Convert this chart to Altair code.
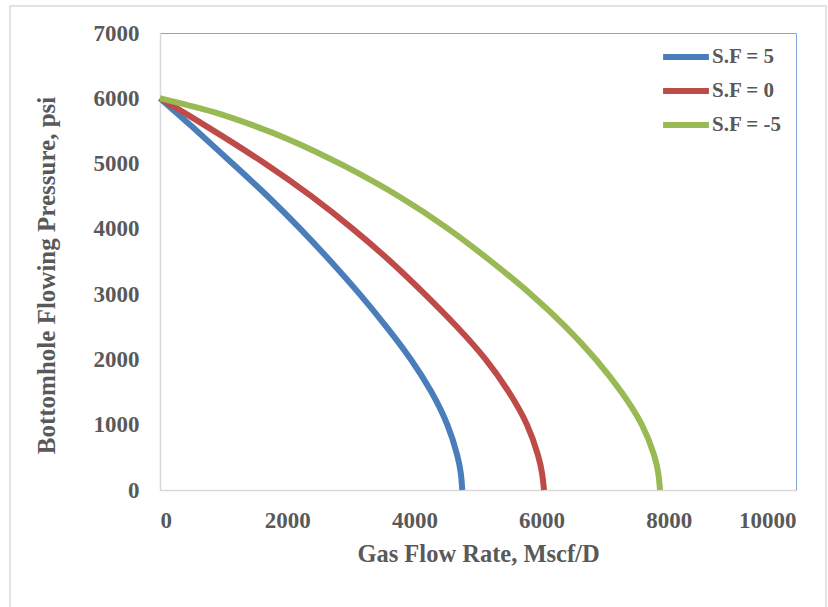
import altair as alt
import pandas as pd

# Bottomhole flowing pressure (psi) and gas rate (Mscf/D)
sf5_p = [6000, 5600, 5000, 4500, 4000, 3500, 3000, 2500, 2000, 1500, 1000, 500, 250, 0]
sf5_q = [0, 470, 1140, 1700, 2212, 2690, 3145, 3565, 3957, 4280, 4533, 4690, 4735, 4753]

sf0_p = [6000, 5600, 5000, 4500, 4000, 3500, 3000, 2500, 2000, 1500, 1000, 500, 250, 0]
sf0_q = [0, 690, 1670, 2390, 3040, 3635, 4167, 4677, 5136, 5496, 5791, 5960, 6013, 6038]

sfm5_p = [6000, 5900, 5800, 5600, 5400, 5000, 4500, 4000, 3500, 3000, 2500, 2000, 1500, 1000, 500, 250, 0]
sfm5_q = [0, 420, 830, 1430, 1980, 2850, 3780, 4550, 5215, 5844, 6390, 6866, 7266, 7599, 7790, 7840, 7862]

series = ["S.F = 5", "S.F = 0", "S.F = -5"]
colors = ["#4A7EBB", "#BE4B48", "#98B954"]

x_ticks = [0, 2000, 4000, 6000, 8000, 10000]
y_ticks = [0, 1000, 2000, 3000, 4000, 5000, 6000, 7000]

rows = []
for name, ps, qs in zip(series, [sf5_p, sf0_p, sfm5_p], [sf5_q, sf0_q, sfm5_q]):
    for i, (p, q) in enumerate(zip(ps, qs)):
        rows.append({"series": name, "q": q, "p": p, "order": i})
df = pd.DataFrame(rows)

FONT = "Liberation Serif"
TXT = "#595959"

lines = alt.Chart(df).mark_line(strokeWidth=6, interpolate="basis", strokeCap="butt").encode(
    x=alt.X("q:Q",
            scale=alt.Scale(domain=[0, 10000], nice=False),
            axis=alt.Axis(values=x_ticks, format="d", title="Gas Flow Rate, Mscf/D", grid=False, ticks=False,
                          domainColor="#D9D9D9", domainWidth=1.5,
                          labelFont=FONT, labelFontSize=23, labelFontWeight="bold", labelColor=TXT,
                          labelPadding=19, titleFont=FONT, titleFontSize=24.5, titleFontWeight="bold",
                          titleColor=TXT, titlePadding=10)),
    y=alt.Y("p:Q",
            scale=alt.Scale(domain=[0, 7000], nice=False),
            axis=alt.Axis(values=y_ticks, format="d", title="Bottomhole  Flowing Pressure, psi", grid=False,
                          ticks=False, domainColor="#D9D9D9", domainWidth=1.5,
                          labelFont=FONT, labelFontSize=23, labelFontWeight="bold", labelColor=TXT,
                          labelPadding=21, titleFont=FONT, titleFontSize=25, titleFontWeight="bold",
                          titleColor=TXT, titlePadding=34, titleY=242)),
    color=alt.Color("series:N",
                    scale=alt.Scale(domain=series, range=colors),
                    sort=series,
                    legend=alt.Legend(title=None, orient="none", legendX=500, legendY=10,
                                      symbolType="stroke", symbolSize=2100, symbolStrokeWidth=6,
                                      clipHeight=28, labelFont=FONT, labelFontSize=21,
                                      labelFontWeight="bold", labelColor=TXT, labelOffset=0,
                                      rowPadding=6)),
    order="order:Q",
)

frame = alt.Chart(pd.DataFrame({"k": [0]})).mark_rect(
    fill=None, stroke="#D9D9D9", strokeWidth=1.5
).encode(x=alt.value(-150), x2=alt.value(666), y=alt.value(-27), y2=alt.value(640))

chart = alt.layer(frame, lines).properties(
    width=636, height=457,
    padding={"left": 160, "top": 33, "right": 32, "bottom": 117},
    autosize=alt.AutoSizeParams(type="none"),
    background="white",
).configure_view(stroke="#7FA6D8", strokeWidth=1)

chart.save("out.html", embed_options={"renderer": "svg", "actions": False})
